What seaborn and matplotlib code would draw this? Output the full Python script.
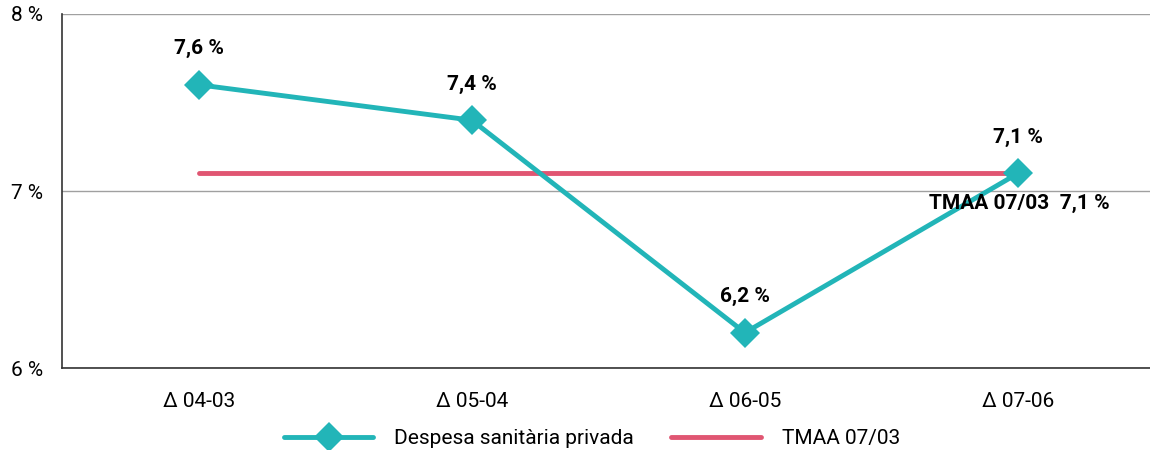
import numpy as np
import pandas as pd
import seaborn as sns
import matplotlib.pyplot as plt
from matplotlib.ticker import FixedLocator

periods = ["\u0394 04-03", "\u0394 05-04", "\u0394 06-05", "\u0394 07-06"]
despesa = [7.6, 7.4, 6.2, 7.1]
tmaa = [7.1, 7.1, 7.1, 7.1]
value_labels = ["7,6", "7,4", "6,2", "7,1"]
y_ticks = [6, 7, 8]

teal = "#22b5b8"
red = "#e05672"

sns.set_style("white")
plt.rcParams["font.family"] = ["Roboto", "DejaVu Sans"]
plt.rcParams["text.color"] = "black"
plt.rcParams["xtick.color"] = "black"
plt.rcParams["ytick.color"] = "black"

df = pd.DataFrame({"periode": periods, "despesa": despesa, "tmaa": tmaa})

fig = plt.figure(figsize=(11.5, 4.5), dpi=100)
ax = fig.add_axes([0.054, 0.182, 0.95, 0.787])

sns.lineplot(data=df, x="periode", y="despesa", ax=ax, color=teal, lw=3.5,
             marker="D", markersize=15, markeredgewidth=0, sort=False,
             label="Despesa sanit\u00e0ria privada", zorder=3)
sns.lineplot(data=df, x="periode", y="tmaa", ax=ax, color=red, lw=3.5,
             sort=False, label="TMAA 07/03", zorder=2)

ax.set_xlim(-0.5, 3.5)
ax.set_ylim(6, 8)
ax.set_xlabel("")
ax.set_ylabel("")

ax.set_yticks(y_ticks)
ax.set_yticklabels([f"{t} %" for t in y_ticks], fontsize=15)
ax.tick_params(axis="y", length=0, pad=14)
ax.yaxis.grid(True, color="#a0a0a0", lw=1)

ax.set_xticks(range(len(periods)))
ax.set_xticklabels(periods, fontsize=15)
ax.tick_params(axis="x", which="major", length=0, pad=17)
ax.xaxis.set_minor_locator(FixedLocator(np.arange(-0.5, 3.6, 1.0)))
ax.tick_params(axis="x", which="minor", length=7, width=1, color="#333333")

for side in ["top", "right"]:
    ax.spines[side].set_visible(False)
for side in ["left", "bottom"]:
    ax.spines[side].set_color("#333333")
    ax.spines[side].set_linewidth(1.2)

for i, (v, lab) in enumerate(zip(despesa, value_labels)):
    ax.annotate(f"{lab} %", (i, v), xytext=(0, 19), textcoords="offset points",
                ha="center", va="bottom", fontsize=15, fontweight="bold")

ax.annotate("TMAA 07/03  7,1 %", (3, tmaa[-1]), xytext=(1, -22),
            textcoords="offset points", ha="center", va="center",
            fontsize=15, fontweight="bold")

ax.legend(loc="center", bbox_to_anchor=(0.485, -0.2), ncol=2,
          frameon=False, fontsize=15, handlelength=4.3, columnspacing=1.8,
          handletextpad=1.0)

fig.savefig("out.png", dpi=100)
